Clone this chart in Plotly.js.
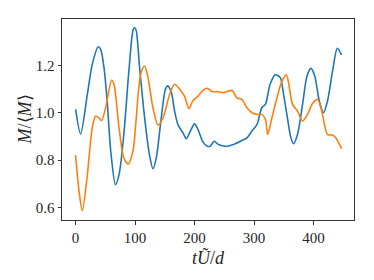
<!DOCTYPE html>
<html>
<head>
<meta charset="utf-8">
<script src="https://cdn.plot.ly/plotly-3.0.1.min.js"></script>
<style>html,body{margin:0;padding:0;background:#fff;}#chart{width:374px;height:280px;}</style>
</head>
<body>
<div id="chart"></div>
<script>
var blueT = [0,8.4,19.7,28,38,42,47.7,53,59,67,73,81,90,97,99.5,102,107.6,116,124,130,135.6,144,151,155,161,166.4,172,180.5,186,193,200,205.7,214,221,226.4,233,240,254.5,268.4,279.6,288,296.5,305,313,319,327,335.6,344,349.6,356,362,366.4,373,381.5,389,395.6,402,409.6,416.8,423.5,432,440,447];
var blueM = [1.014,0.911,1.077,1.204,1.278,1.268,1.19,1.05,0.84,0.697,0.739,0.908,1.19,1.352,1.358,1.345,1.19,0.979,0.824,0.764,0.81,0.979,1.099,1.113,1.085,1.007,0.95,0.915,0.891,0.923,0.953,0.93,0.877,0.859,0.859,0.88,0.866,0.859,0.869,0.883,0.894,0.923,0.951,1.021,1.035,1.12,1.16,1.148,1.077,0.979,0.894,0.869,0.908,1.035,1.155,1.187,1.155,1.05,1.0,1.05,1.176,1.272,1.244];
var orangeT = [0,5.7,11.3,19.7,28,33.6,39,43.7,50.4,60.5,64.5,73,81,88.6,96.5,101,106,110,116,121.7,130,138.5,147,158,166.4,175,183,190.6,197,205.7,214,221,230,237.6,249,263,271,279.6,288,296.5,305,313,319,323,330,338.5,347,354,357.5,364.7,373,381.5,390,398,406.7,415,423.5,432,437.6,447];
var orangeM = [0.821,0.67,0.587,0.739,0.937,0.986,0.979,0.967,1.021,1.137,1.12,0.937,0.81,0.784,0.84,0.95,1.1,1.17,1.197,1.148,1.021,0.948,0.979,1.077,1.12,1.099,1.07,1.018,1.05,1.07,1.094,1.103,1.089,1.089,1.085,1.094,1.063,1.056,1.021,1.0,0.993,0.993,0.972,0.908,0.979,1.063,1.134,1.16,1.134,1.035,1.007,0.965,0.993,1.038,1.056,0.993,0.908,0.906,0.894,0.849];
var xTicks = [0,100,200,300,400];
var yTicks = [0.6,0.8,1.0,1.2];
var yTickText = ['0.6','0.8','1.0','1.2'];
var xTitle = '<i>tŨ</i>/<i>d</i>';
var yTitle = '<i>M</i>/⟨<i>M</i>⟩';

var fam = 'Liberation Serif';
var font = {family: fam, size: 15, color: '#262626'};
var titleFont = {family: fam, size: 18, color: '#262626'};
var traces = [
  {x: blueT, y: blueM, mode: 'lines', line: {color: '#1f77b4', width: 1.6, shape: 'spline', smoothing: 0.8}, hoverinfo: 'skip'},
  {x: orangeT, y: orangeM, mode: 'lines', line: {color: '#ff7f0e', width: 1.6, shape: 'spline', smoothing: 0.8}, hoverinfo: 'skip'}
];
var layout = {
  width: 374, height: 280,
  margin: {l: 62, r: 20, t: 19, b: 60},
  paper_bgcolor: '#fff', plot_bgcolor: '#fff',
  showlegend: false,
  font: font,
  xaxis: {
    range: [-22.9, 468], tickvals: xTicks, ticks: 'outside', ticklen: 3.5, tickcolor: '#333', tickwidth: 1,
    showline: true, mirror: true, linecolor: '#333', linewidth: 1, showgrid: false, zeroline: false,
    tickfont: font
  },
  yaxis: {
    range: [0.548, 1.395], tickvals: yTicks, ticktext: yTickText, ticks: 'outside', ticklen: 3.5, tickcolor: '#333', tickwidth: 1,
    showline: true, mirror: true, linecolor: '#333', linewidth: 1, showgrid: false, zeroline: false,
    tickfont: font
  },
  annotations: [
    {text: xTitle, xref: 'paper', yref: 'paper', x: 0.5, y: 0, xanchor: 'center', yanchor: 'middle', yshift: -38, showarrow: false, font: titleFont},
    {text: yTitle, xref: 'paper', yref: 'paper', x: 0, y: 0.5, xanchor: 'center', yanchor: 'middle', xshift: -38, textangle: -90, showarrow: false, font: titleFont}
  ]
};
Plotly.newPlot('chart', traces, layout, {staticPlot: true, displayModeBar: false});
</script>
</body>
</html>
